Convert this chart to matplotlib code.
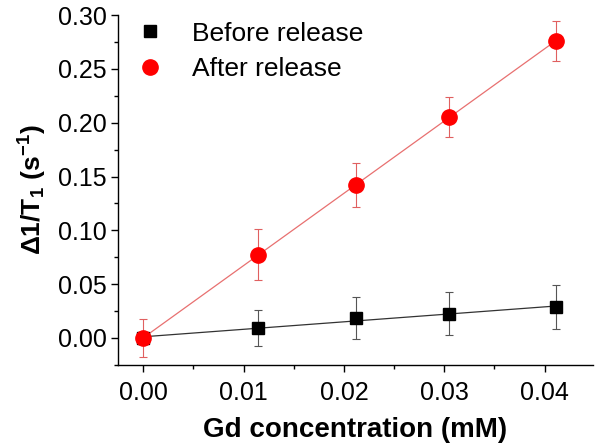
import numpy as np
import matplotlib
matplotlib.use("Agg")
import matplotlib.pyplot as plt
from matplotlib.ticker import MultipleLocator, FormatStrFormatter
from matplotlib.lines import Line2D

plt.rcParams['font.family'] = ['Liberation Sans', 'DejaVu Sans']
plt.rcParams['mathtext.fontset'] = 'custom'
plt.rcParams['mathtext.rm'] = 'Liberation Sans'
plt.rcParams['mathtext.bf'] = 'Liberation Sans:bold'
plt.rcParams['mathtext.it'] = 'Liberation Sans:italic'

conc = [0.0, 0.0114, 0.0212, 0.0305, 0.0411]
before = [0.0, 0.0088, 0.0183, 0.0223, 0.0284]
before_err = [0.0, 0.0167, 0.0195, 0.0200, 0.0205]
after = [0.0, 0.0771, 0.1421, 0.2050, 0.2762]
after_err = [0.0175, 0.0237, 0.0205, 0.0186, 0.0184]
labels = ['Before release', 'After release']

fig = plt.figure(figsize=(6.0, 4.46), dpi=100)
ax = fig.add_axes([0.197, 0.182, 0.791, 0.784])

x = np.array(conc)
xf = np.array([0.0, x[-1]])
pb = np.polyfit(x, before, 1)
pa = np.polyfit(x, after, 1)
ax.plot(xf, np.polyval(pb, xf), color='#333333', lw=0.9, zorder=1)
ax.plot(xf, np.polyval(pa, xf), color='#e87070', lw=0.9, zorder=1)

ax.errorbar(conc, before, yerr=before_err, fmt='s', color='black', ms=9,
            ecolor='#555555', elinewidth=0.8, capsize=3, capthick=0.8, zorder=3)
ax.errorbar(conc, after, yerr=after_err, fmt='o', color='#ff0000', ms=11,
            ecolor='#e06060', elinewidth=0.8, capsize=3, capthick=0.8, zorder=4)

ax.set_xlim(-0.0025, 0.0448)
ax.set_ylim(-0.025, 0.30)
ax.xaxis.set_major_locator(MultipleLocator(0.01))
ax.xaxis.set_minor_locator(MultipleLocator(0.005))
ax.yaxis.set_major_locator(MultipleLocator(0.05))
ax.yaxis.set_minor_locator(MultipleLocator(0.025))
ax.xaxis.set_major_formatter(FormatStrFormatter('%.2f'))
ax.yaxis.set_major_formatter(FormatStrFormatter('%.2f'))
ax.spines['top'].set_visible(False)
ax.spines['right'].set_visible(False)
for s in ('left', 'bottom'):
    ax.spines[s].set_linewidth(1.0)
ax.tick_params(which='major', direction='out', length=5, width=1.0, labelsize=18)
ax.tick_params(axis='x', which='major', pad=7)
ax.tick_params(which='minor', direction='out', length=3, width=1.0)

ax.set_xlabel('Gd concentration (mM)', fontsize=20, fontweight='bold', labelpad=8)
ax.set_ylabel('Δ1/T$_\\mathbf{1}$ (s$^\\mathbf{-1}$)', fontsize=19, fontweight='bold', labelpad=6)

handles = [Line2D([], [], marker='s', color='black', ls='none', ms=8),
           Line2D([], [], marker='o', color='#ff0000', ls='none', ms=11)]
ax.legend(handles, labels, loc='upper left', bbox_to_anchor=(0.0, 1.012),
          frameon=False, fontsize=19, handletextpad=0.8, handlelength=1.6,
          labelspacing=0.45, borderaxespad=0.0)

fig.savefig('out.png', dpi=100)
